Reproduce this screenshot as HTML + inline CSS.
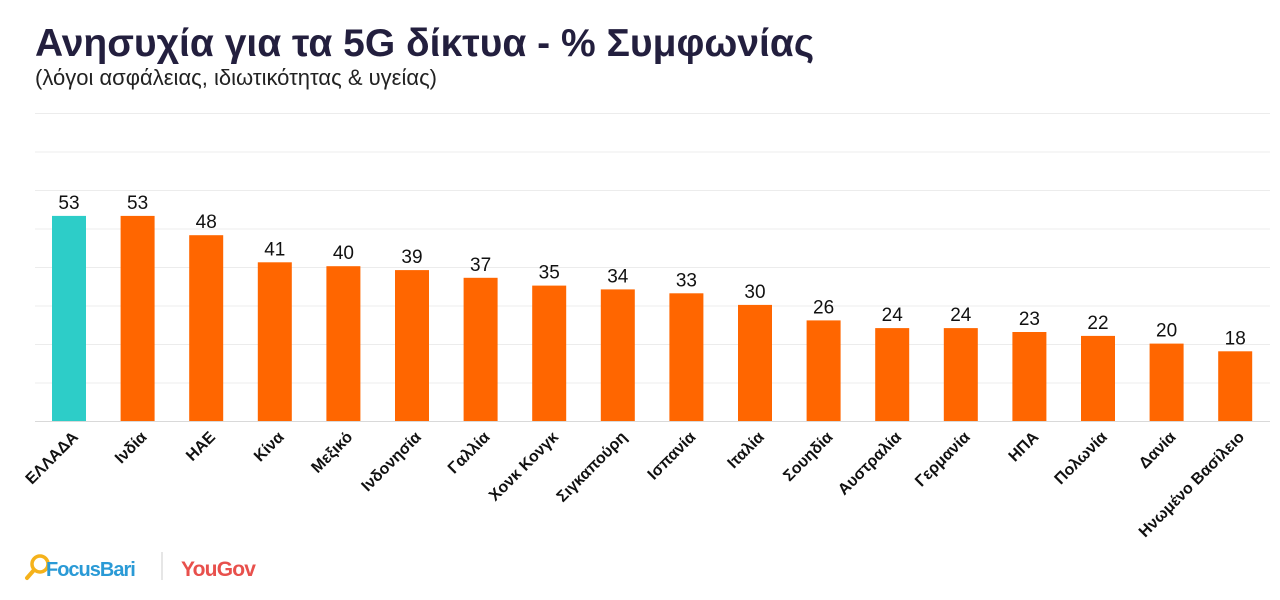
<!DOCTYPE html>
<html><head><meta charset="utf-8"><style>
body{margin:0;background:#fff;}
svg text{font-family:"Liberation Sans",sans-serif;}
</style></head><body>
<svg width="1280" height="595" xmlns="http://www.w3.org/2000/svg">
<text x="35" y="56" font-size="39" font-weight="bold" fill="#231f3e">Ανησυχία για τα 5G δίκτυα - % Συμφωνίας</text>
<text x="35" y="85" font-size="22" fill="#222">(λόγοι ασφάλειας, ιδιωτικότητας &amp; υγείας)</text>
<g stroke="#ececec" stroke-width="1">
<line x1="35" x2="1270" y1="113.5" y2="113.5"/><line x1="35" x2="1270" y1="152" y2="152"/>
<line x1="35" x2="1270" y1="190.5" y2="190.5"/><line x1="35" x2="1270" y1="229" y2="229"/>
<line x1="35" x2="1270" y1="267.5" y2="267.5"/><line x1="35" x2="1270" y1="306" y2="306"/>
<line x1="35" x2="1270" y1="344.5" y2="344.5"/><line x1="35" x2="1270" y1="383" y2="383"/>
</g>
<line x1="35" x2="1270" y1="421.5" y2="421.5" stroke="#d9d9d9"/>
<g fill="#ff6600">
<rect x="52" y="215.9" width="34" height="205.1" fill="#2dcdc8"/>
<rect x="120.6" y="215.9" width="34" height="205.1"/>
<rect x="189.2" y="235.2" width="34" height="185.8"/>
<rect x="257.8" y="262.3" width="34" height="158.7"/>
<rect x="326.4" y="266.2" width="34" height="154.8"/>
<rect x="395" y="270.1" width="34" height="150.9"/>
<rect x="463.6" y="277.8" width="34" height="143.2"/>
<rect x="532.2" y="285.6" width="34" height="135.4"/>
<rect x="600.8" y="289.4" width="34" height="131.6"/>
<rect x="669.4" y="293.3" width="34" height="127.7"/>
<rect x="738" y="304.9" width="34" height="116.1"/>
<rect x="806.6" y="320.4" width="34" height="100.6"/>
<rect x="875.2" y="328.1" width="34" height="92.9"/>
<rect x="943.8" y="328.1" width="34" height="92.9"/>
<rect x="1012.4" y="332" width="34" height="89"/>
<rect x="1081" y="335.9" width="34" height="85.1"/>
<rect x="1149.6" y="343.6" width="34" height="77.4"/>
<rect x="1218.2" y="351.3" width="34" height="69.7"/>
</g>
<g font-size="19" text-anchor="middle" fill="#111">
<text x="69" y="208.9">53</text>
<text x="137.6" y="208.9">53</text>
<text x="206.2" y="228.2">48</text>
<text x="274.8" y="255.3">41</text>
<text x="343.4" y="259.2">40</text>
<text x="412" y="263.1">39</text>
<text x="480.6" y="270.8">37</text>
<text x="549.2" y="278.6">35</text>
<text x="617.8" y="282.4">34</text>
<text x="686.4" y="286.3">33</text>
<text x="755" y="297.9">30</text>
<text x="823.6" y="313.4">26</text>
<text x="892.2" y="321.1">24</text>
<text x="960.8" y="321.1">24</text>
<text x="1029.4" y="325">23</text>
<text x="1098" y="328.9">22</text>
<text x="1166.6" y="336.6">20</text>
<text x="1235.2" y="344.3">18</text>
</g>
<g font-size="16" font-weight="bold" text-anchor="end" fill="#111">
<text transform="translate(79,438) rotate(-45)">ΕΛΛΑΔΑ</text>
<text transform="translate(147.6,438) rotate(-45)">Ινδία</text>
<text transform="translate(216.2,438) rotate(-45)">ΗΑΕ</text>
<text transform="translate(284.8,438) rotate(-45)">Κίνα</text>
<text transform="translate(353.4,438) rotate(-45)">Μεξικό</text>
<text transform="translate(422,438) rotate(-45)">Ινδονησία</text>
<text transform="translate(490.6,438) rotate(-45)">Γαλλία</text>
<text transform="translate(559.2,438) rotate(-45)">Χονκ Κονγκ</text>
<text transform="translate(627.8,438) rotate(-45)">Σιγκαπούρη</text>
<text transform="translate(696.4,438) rotate(-45)">Ισπανία</text>
<text transform="translate(765,438) rotate(-45)">Ιταλία</text>
<text transform="translate(833.6,438) rotate(-45)">Σουηδία</text>
<text transform="translate(902.2,438) rotate(-45)">Αυστραλία</text>
<text transform="translate(970.8,438) rotate(-45)">Γερμανία</text>
<text transform="translate(1039.4,438) rotate(-45)">ΗΠΑ</text>
<text transform="translate(1108,438) rotate(-45)">Πολωνία</text>
<text transform="translate(1176.6,438) rotate(-45)">Δανία</text>
<text transform="translate(1245.2,438) rotate(-45)">Ηνωμένο Βασίλειο</text>
</g>
<g transform="translate(30,554)">
<circle cx="10" cy="10" r="8" fill="none" stroke="#f5b21b" stroke-width="3.5"/>
<line x1="4" y1="16" x2="-3" y2="24" stroke="#f5b21b" stroke-width="4" stroke-linecap="round"/>
<text x="16" y="22" font-size="20" font-weight="bold" fill="#2a9ad6" letter-spacing="-1">FocusBari</text>
<line x1="132" y1="-2" x2="132" y2="26" stroke="#ccc"/>
<text x="151" y="22" font-size="21" font-weight="bold" fill="#e8504c" letter-spacing="-0.8">YouGov</text>
</g>
</svg>
</body></html>
